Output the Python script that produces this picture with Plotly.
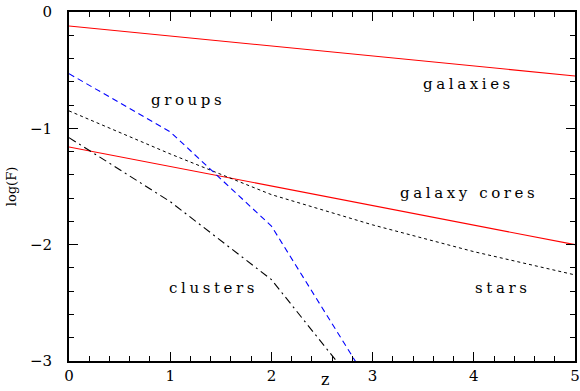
import plotly.graph_objects as go

# data (log F vs z)
z_pts = [0, 1, 2, 3, 4, 5]
galaxies_z = [0, 5]
galaxies = [-0.12, -0.55]
cores_z = [0, 5]
cores = [-1.16, -2.00]
stars = [-0.85, -1.22, -1.57, -1.83, -2.06, -2.26]
groups_z = [0, 1, 2, 3]
groups = [-0.53, -1.03, -1.84, -3.24]
clusters_z = [0, 1, 2, 3]
clusters = [-1.08, -1.63, -2.30, -3.39]

labels = ["galaxies", "groups", "galaxy cores", "clusters", "stars"]
label_x = [3.95, 1.18, 3.95, 1.43, 4.29]
label_y = [-0.615, -0.76, -1.56, -2.37, -2.37]

xticks = [0, 1, 2, 3, 4, 5]
xticktext = ["0", "1", "2", "3", "4", "5"]
yticks = [0, -1, -2, -3]
yticktext = ["0", "\u22121", "\u22122", "\u22123"]

fig = go.Figure()
fig.add_trace(go.Scatter(x=galaxies_z, y=galaxies, mode="lines",
                         line=dict(color="#ff0000", width=1.1)))
fig.add_trace(go.Scatter(x=cores_z, y=cores, mode="lines",
                         line=dict(color="#ff0000", width=1.1)))
fig.add_trace(go.Scatter(x=z_pts, y=stars, mode="lines",
                         line=dict(color="black", width=1, dash="dot")))
fig.add_trace(go.Scatter(x=groups_z, y=groups, mode="lines",
                         line=dict(color="#0000ff", width=1.1, dash="6px,4px")))
fig.add_trace(go.Scatter(x=clusters_z, y=clusters, mode="lines",
                         line=dict(color="black", width=1.1, dash="8px,4px,2px,4px")))

for t, x, y in zip(labels, label_x, label_y):
    fig.add_annotation(x=x, y=y, text='<span style="letter-spacing:3.6px">' + t + '</span>',
                       showarrow=False,
                       font=dict(family="DejaVu Serif", size=15, color="black"))

axis_common = dict(
    showgrid=False, zeroline=False, showline=True, linecolor="black", linewidth=2,
    mirror="ticks", ticks="inside", ticklen=9, tickwidth=1.2, tickcolor="black",
    tickfont=dict(family="DejaVu Serif", size=15, color="black"),
    minor=dict(ticks="inside", ticklen=5, tickwidth=1, tickcolor="black"),
    automargin=False, ticklabeloverflow="allow",
)

fig.update_xaxes(range=[0, 5], tickvals=xticks, ticktext=xticktext,
                 ticklabelstandoff=0, **axis_common)
fig.update_xaxes(minor=dict(dtick=0.2, tick0=0))
fig.update_yaxes(range=[-3, 0], tickvals=yticks, ticktext=yticktext,
                 ticklabelstandoff=12,
                 title=dict(text="log(F)", font=dict(family="DejaVu Serif", size=13, color="black"), standoff=10),
                 **axis_common)
fig.update_yaxes(minor=dict(dtick=0.2, tick0=0))

# x-axis title placed as an annotation just below the tick labels
fig.add_annotation(x=2.53, xref="x", y=0, yref="paper", yanchor="bottom", yshift=-30,
                   text="z", showarrow=False,
                   font=dict(family="DejaVu Serif", size=16, color="black"))

fig.update_layout(
    width=580, height=391, showlegend=False,
    margin=dict(l=69, r=5, t=12, b=30),
    plot_bgcolor="white", paper_bgcolor="white",
)
fig.write_html("out.html")
